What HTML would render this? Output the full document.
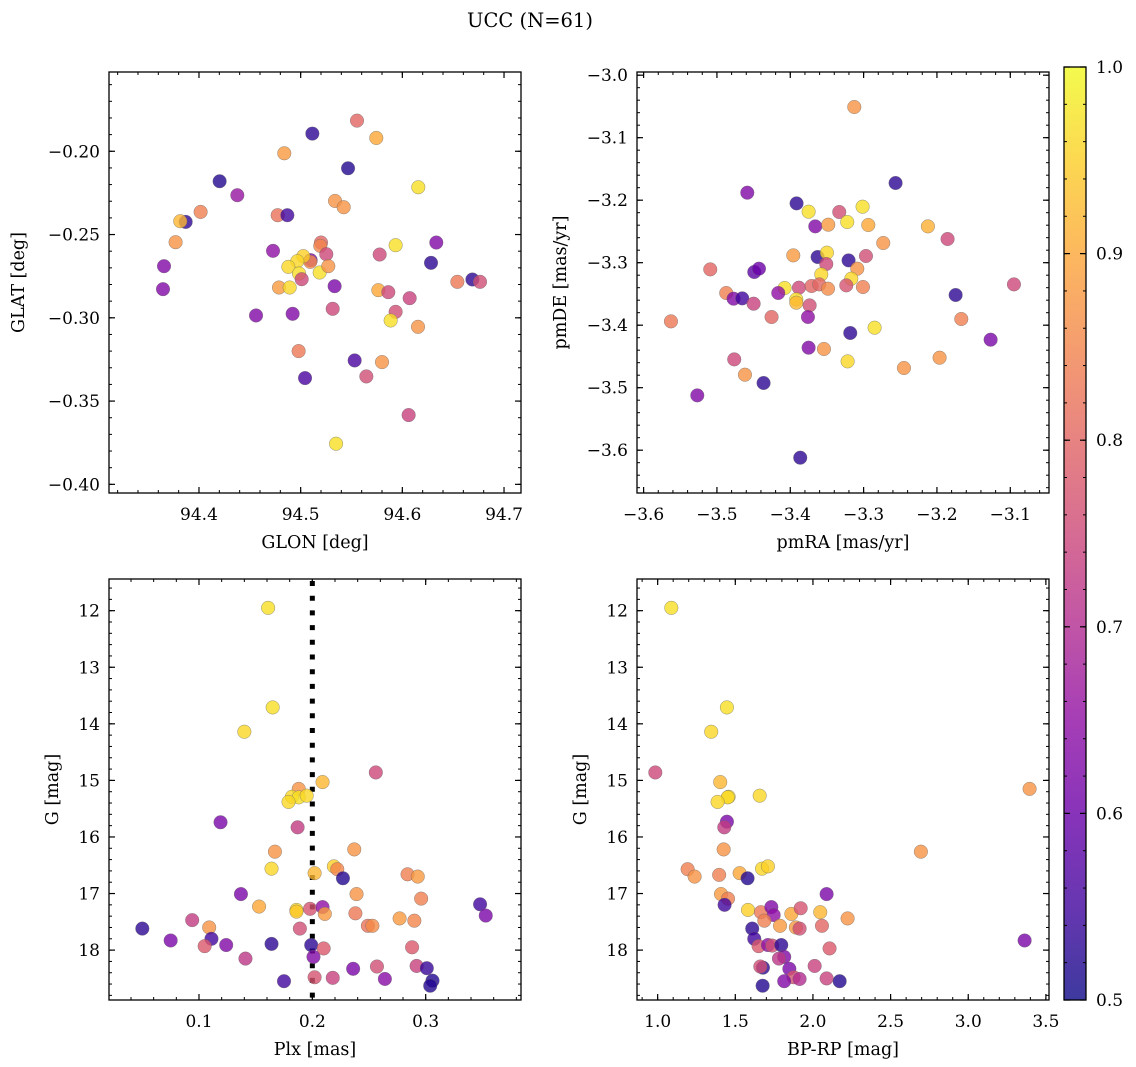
<!DOCTYPE html>
<html><head><meta charset="utf-8">
<style>
html,body{margin:0;padding:0;background:#fff;}
svg{display:block;font-family:"DejaVu Serif","Liberation Serif",serif;}
</style></head>
<body>
<svg id="fig" width="1136" height="1067" viewBox="0 0 1136 1067" xmlns="http://www.w3.org/2000/svg">
<text x="530" y="27" font-size="19.5" text-anchor="middle">UCC (N=61)</text>
</svg>
<script>
// ---- Panel 1: GLON vs GLAT ----
const glonVals=[94.5115,94.5554,94.5744,94.4839,94.5466,94.4203,94.6157,94.4377,94.4016,94.3869,94.3816,94.5338,94.5423,94.4774,94.4869,94.3770,94.4728,94.5200,94.5193,94.5252,94.5777,94.5934,94.6334,94.6282,94.3656,94.3646,94.6541,94.6689,94.6764,94.5098,94.5095,94.5026,94.4967,94.4879,94.4984,94.5010,94.5187,94.5272,94.4787,94.4892,94.5334,94.5764,94.5862,94.6072,94.5315,94.5934,94.5885,94.6154,94.4561,94.4921,94.4980,94.5531,94.5800,94.5646,94.5043,94.6062,94.5348];
const glatVals=[-0.1894,-0.1816,-0.1920,-0.2012,-0.2102,-0.2180,-0.2216,-0.2264,-0.2364,-0.2424,-0.2420,-0.2298,-0.2336,-0.2384,-0.2384,-0.2546,-0.2598,-0.2548,-0.2568,-0.2618,-0.2620,-0.2564,-0.2548,-0.2670,-0.2690,-0.2828,-0.2784,-0.2770,-0.2784,-0.2654,-0.2664,-0.2630,-0.2660,-0.2694,-0.2734,-0.2768,-0.2728,-0.2690,-0.2818,-0.2818,-0.2810,-0.2834,-0.2846,-0.2882,-0.2946,-0.2964,-0.3016,-0.3054,-0.2986,-0.2976,-0.3200,-0.3256,-0.3266,-0.3352,-0.3362,-0.3584,-0.3756];
const probP1=[0.53,0.80,0.90,0.88,0.52,0.52,0.97,0.66,0.84,0.53,0.92,0.87,0.87,0.82,0.55,0.87,0.65,0.80,0.85,0.75,0.75,0.97,0.63,0.53,0.63,0.63,0.83,0.53,0.76,0.62,0.86,0.95,0.96,0.96,0.97,0.75,0.97,0.87,0.88,0.96,0.62,0.90,0.75,0.74,0.75,0.76,0.97,0.87,0.63,0.63,0.83,0.56,0.87,0.76,0.56,0.74,0.97];
// ---- Panel 2: pmRA vs pmDE ----
const pmraVals=[-3.3127,-3.2564,-3.4586,-3.3914,-3.3750,-3.3332,-3.3014,-3.3223,-3.3659,-3.3482,-3.2936,-3.2123,-3.1855,-3.2732,-3.3959,-3.3627,-3.3500,-3.3509,-3.3205,-3.2968,-3.3086,-3.3577,-3.3168,-3.3236,-3.3009,-3.5091,-3.4491,-3.4427,-3.4873,-3.4773,-3.4655,-3.4500,-3.4077,-3.4164,-3.3882,-3.3709,-3.3605,-3.3486,-3.3918,-3.3918,-3.3736,-3.3759,-3.4255,-3.1745,-3.0950,-3.1668,-3.2850,-3.3182,-3.1268,-3.3750,-3.3541,-3.1964,-3.3218,-3.2450,-3.4764,-3.4618,-3.4364,-3.5627,-3.5268,-3.3864];
const pmdeVals=[-3.0509,-3.1725,-3.1880,-3.2051,-3.2184,-3.2189,-3.2104,-3.2349,-3.2419,-3.2392,-3.2397,-3.2419,-3.2621,-3.2685,-3.2883,-3.2909,-3.2840,-3.3021,-3.2963,-3.2893,-3.3096,-3.3187,-3.3256,-3.3363,-3.3389,-3.3107,-3.3149,-3.3096,-3.3485,-3.3576,-3.3571,-3.3656,-3.3405,-3.3485,-3.3400,-3.3373,-3.3347,-3.3416,-3.3587,-3.3640,-3.3683,-3.3869,-3.3869,-3.3517,-3.3347,-3.3901,-3.4040,-3.4125,-3.4232,-3.4360,-3.4381,-3.4520,-3.4579,-3.4685,-3.4547,-3.4792,-3.4925,-3.3939,-3.5123,-3.6120];
const probP2=[0.87,0.53,0.63,0.53,0.97,0.76,0.97,0.97,0.63,0.88,0.90,0.91,0.75,0.87,0.88,0.53,0.96,0.75,0.53,0.76,0.87,0.96,0.96,0.77,0.84,0.80,0.58,0.60,0.84,0.63,0.55,0.74,0.97,0.65,0.75,0.80,0.80,0.86,0.97,0.92,0.76,0.65,0.80,0.53,0.75,0.84,0.97,0.53,0.62,0.63,0.87,0.87,0.96,0.87,0.75,0.87,0.53,0.83,0.63,0.53];
// ---- Panel 3: Plx vs G ----
const plxVals=[0.161,0.165,0.140,0.256,0.209,0.188,0.182,0.188,0.195,0.179,0.119,0.187,0.167,0.237,0.164,0.219,0.222,0.202,0.227,0.284,0.293,0.137,0.239,0.296,0.348,0.353,0.153,0.186,0.186,0.198,0.209,0.211,0.238,0.277,0.290,0.249,0.253,0.094,0.109,0.050,0.189,0.075,0.111,0.105,0.124,0.164,0.199,0.210,0.288,0.141,0.201,0.236,0.257,0.292,0.301,0.175,0.202,0.218,0.264,0.306,0.304];
const gPlxVals=[11.95,13.71,14.14,14.86,15.03,15.15,15.29,15.30,15.27,15.38,15.74,15.83,16.26,16.22,16.56,16.52,16.57,16.64,16.73,16.66,16.70,17.01,17.01,17.09,17.19,17.39,17.23,17.29,17.32,17.27,17.24,17.36,17.35,17.44,17.48,17.57,17.57,17.47,17.60,17.62,17.62,17.83,17.80,17.93,17.91,17.89,17.91,17.97,17.95,18.15,18.12,18.33,18.29,18.28,18.32,18.55,18.48,18.49,18.51,18.54,18.63];
const probP3=[0.97,0.97,0.96,0.75,0.92,0.87,0.96,0.97,0.96,0.96,0.62,0.73,0.87,0.87,0.96,0.95,0.85,0.92,0.52,0.84,0.88,0.62,0.87,0.84,0.55,0.62,0.90,0.96,0.94,0.77,0.65,0.88,0.83,0.88,0.85,0.82,0.86,0.73,0.87,0.53,0.76,0.62,0.55,0.78,0.63,0.53,0.53,0.78,0.78,0.72,0.63,0.62,0.76,0.74,0.54,0.55,0.77,0.74,0.64,0.52,0.52];
// ---- Panel 4: BP-RP vs G ----
const bprpVals=[1.088,1.446,1.345,0.985,3.395,1.403,1.457,1.451,1.386,1.657,1.446,1.429,1.425,2.695,1.193,1.238,1.396,1.528,1.672,1.710,1.579,2.088,1.408,1.453,1.431,1.582,1.665,1.732,1.747,1.687,1.861,1.921,2.047,2.223,1.788,1.890,1.914,2.058,1.609,1.622,1.650,1.710,1.738,1.796,2.107,1.815,1.781,1.678,1.661,1.848,2.011,1.876,1.914,1.815,2.088,2.172,1.676,3.363];
const gColVals=[11.95,13.71,14.14,14.86,15.15,15.03,15.29,15.30,15.38,15.27,15.73,15.83,16.22,16.26,16.57,16.70,16.67,16.64,16.56,16.52,16.73,17.01,17.01,17.09,17.20,17.29,17.33,17.24,17.38,17.48,17.36,17.26,17.33,17.44,17.57,17.60,17.62,17.57,17.62,17.80,17.93,17.91,17.92,17.91,17.97,18.12,18.15,18.31,18.29,18.33,18.28,18.48,18.51,18.55,18.50,18.55,18.63,17.83];
const probP4=[0.97,0.97,0.96,0.75,0.87,0.92,0.97,0.96,0.96,0.96,0.62,0.73,0.87,0.87,0.84,0.87,0.84,0.90,0.96,0.95,0.52,0.62,0.88,0.84,0.55,0.95,0.83,0.63,0.65,0.84,0.90,0.77,0.92,0.87,0.88,0.88,0.76,0.80,0.53,0.55,0.78,0.65,0.76,0.53,0.78,0.63,0.72,0.53,0.76,0.62,0.74,0.77,0.70,0.63,0.74,0.52,0.52,0.62];
// tick label arrays
const glonTicks=[94.4,94.5,94.6,94.7];
const glatTicks=[-0.20,-0.25,-0.30,-0.35,-0.40];
const pmraTicks=[-3.6,-3.5,-3.4,-3.3,-3.2,-3.1];
const pmdeTicks=[-3.0,-3.1,-3.2,-3.3,-3.4,-3.5,-3.6];
const plxTicks=[0.1,0.2,0.3];
const gTicks=[12,13,14,15,16,17,18];
const bprpTicks=[1.0,1.5,2.0,2.5,3.0,3.5];
const cbarTicks=[0.5,0.6,0.7,0.8,0.9,1.0];
const plxRef=[0.2];

const NS="http://www.w3.org/2000/svg";
const fig=document.getElementById('fig');
const TFS=17, LFS=17.5;
const stops=[[0,13,8,135],[0.1,65,4,157],[0.2,106,0,168],[0.3,143,13,164],[0.4,177,42,144],[0.5,204,71,120],[0.6,225,100,98],[0.7,242,132,75],[0.8,252,166,54],[0.9,252,206,37],[1,240,249,33]];
function plasma(v){
  let t=(v-0.5)/0.5; t=Math.max(0,Math.min(1,t));
  for(let i=0;i<stops.length-1;i++){
    const a=stops[i],b=stops[i+1];
    if(t<=b[0]){const f=(t-a[0])/(b[0]-a[0]);
      return `rgb(${Math.round(a[1]+f*(b[1]-a[1]))},${Math.round(a[2]+f*(b[2]-a[2]))},${Math.round(a[3]+f*(b[3]-a[3]))})`;}
  }
  return 'rgb(240,249,33)';
}
function mk(tag,attrs,parent){const e=document.createElementNS(NS,tag);for(const k in attrs)e.setAttribute(k,attrs[k]);(parent||fig).appendChild(e);return e;}
function fmt(v,d){const s=Math.abs(v).toFixed(d);return (v<-1e-9?'\u2212':'')+s;}

function panel(c){
  const g=mk('g',{});
  
  
  const sx=v=>c.px0+(v-c.xd[0])/(c.xd[1]-c.xd[0])*(c.px1-c.px0);
  const sy=v=>c.py0+(v-c.yd[0])/(c.yd[1]-c.yd[0])*(c.py1-c.py0);
  const xlo=Math.min(c.xd[0],c.xd[1]),xhi=Math.max(c.xd[0],c.xd[1]);
  for(let k=Math.ceil(xlo/c.xm-1e-6);k*c.xm<=xhi+1e-9;k++){const X=sx(k*c.xm);
    mk('line',{x1:X,x2:X,y1:c.py1,y2:c.py1-3,stroke:'#000','stroke-width':1},g);
    mk('line',{x1:X,x2:X,y1:c.py0,y2:c.py0+3,stroke:'#000','stroke-width':1},g);}
  const ylo=Math.min(c.yd[0],c.yd[1]),yhi=Math.max(c.yd[0],c.yd[1]);
  for(let k=Math.ceil(ylo/c.ym-1e-6);k*c.ym<=yhi+1e-9;k++){const Y=sy(k*c.ym);
    mk('line',{x1:c.px0,x2:c.px0+3,y1:Y,y2:Y,stroke:'#000','stroke-width':1},g);
    mk('line',{x1:c.px1,x2:c.px1-3,y1:Y,y2:Y,stroke:'#000','stroke-width':1},g);}
  c.xt.forEach(v=>{const X=sx(v);
    mk('line',{x1:X,x2:X,y1:c.py1,y2:c.py1-6,stroke:'#000','stroke-width':1.2},g);
    mk('line',{x1:X,x2:X,y1:c.py0,y2:c.py0+6,stroke:'#000','stroke-width':1.2},g);
    const t=mk('text',{x:X,y:c.py1+27,'font-size':TFS,'text-anchor':'middle'},g);t.textContent=fmt(v,c.xdec);
    
    });
  c.yt.forEach(v=>{const Y=sy(v);
    mk('line',{x1:c.px0,x2:c.px0+6,y1:Y,y2:Y,stroke:'#000','stroke-width':1.2},g);
    mk('line',{x1:c.px1,x2:c.px1-6,y1:Y,y2:Y,stroke:'#000','stroke-width':1.2},g);
    const t=mk('text',{x:c.px0-9,y:Y+6,'font-size':TFS,'text-anchor':'end'},g);t.textContent=fmt(v,c.ydec);
    
    });
  if(c.vline){c.vline.forEach(v=>{const X=sx(v);
    const l=mk('line',{x1:X,x2:X,y1:c.py0+2,y2:c.py1,stroke:'#000','stroke-width':5,'stroke-dasharray':'5 9.7'},g);
    
    });}
  for(let i=0;i<c.xs.length;i++){
    const p=mk('circle',{cx:sx(c.xs[i]),cy:sy(c.ys[i]),r:6.8,fill:plasma(c.cs[i]),'fill-opacity':0.8,stroke:'#666','stroke-opacity':0.7,'stroke-width':0.5},g);
    
    
  }
  const fr=mk('rect',{x:c.px0,y:c.py0,width:c.px1-c.px0,height:c.py1-c.py0,fill:'none',stroke:'#000','stroke-width':1.3},g);
  
  
  const xl=mk('text',{x:(c.px0+c.px1)/2,y:c.py1+55,'font-size':LFS,'text-anchor':'middle'},g);xl.textContent=c.xlab;
  
  
  const yx=c.ylx, yy=(c.py0+c.py1)/2;
  const yl=mk('text',{x:yx,y:yy,'font-size':LFS,'text-anchor':'middle',transform:`rotate(-90 ${yx} ${yy})`},g);yl.textContent=c.ylab;
  
  
}

panel({name:'glon-glat-panel',px0:109,px1:521,py0:72,py1:493,xd:[94.3115,94.7167],yd:[-0.1524,-0.4052],xt:glonTicks,yt:glatTicks,xm:0.02,ym:0.01,xdec:1,ydec:2,xs:glonVals,ys:glatVals,cs:probP1,xlab:'GLON [deg]',ylab:'GLAT [deg]',ylx:24});
panel({name:'pm-panel',px0:637,px1:1049,py0:72,py1:493,xd:[-3.609,-3.0472],yd:[-2.9949,-3.6685],xt:pmraTicks,yt:pmdeTicks,xm:0.02,ym:0.02,xdec:1,ydec:1,xs:pmraVals,ys:pmdeVals,cs:probP2,xlab:'pmRA [mas/yr]',ylab:'pmDE [mas/yr]',ylx:566});
panel({name:'plx-g-panel',px0:109,px1:521,py0:579,py1:1000,xd:[0.0206,0.3841],yd:[11.44,18.882],xt:plxTicks,yt:gTicks,xm:0.02,ym:0.2,xdec:1,ydec:0,xs:plxVals,ys:gPlxVals,cs:probP3,xlab:'Plx [mas]',ylab:'G [mag]',ylx:58,vline:plxRef});
panel({name:'cmd-panel',px0:637,px1:1049,py0:579,py1:1000,xd:[0.867,3.52],yd:[11.44,18.882],xt:bprpTicks,yt:gTicks,xm:0.1,ym:0.2,xdec:1,ydec:0,xs:bprpVals,ys:gColVals,cs:probP4,xlab:'BP-RP [mag]',ylab:'G [mag]',ylx:586});

// colorbar
(function(){
  const cx0=1064,cx1=1086,cy0=67,cy1=1000;
  const g=mk('g',{});
  
  
  const defs=mk('defs',{},g);
  const lg=mk('linearGradient',{id:'cb',x1:0,y1:1,x2:0,y2:0},defs);
  for(let i=0;i<=20;i++){const v=0.5+i*0.025;mk('stop',{offset:(i/20),'stop-color':plasma(v),'stop-opacity':0.8},lg);}
  mk('rect',{x:cx0,y:cy0,width:cx1-cx0,height:cy1-cy0,fill:'url(#cb)'},g);
  const sy=v=>cy1-(v-0.5)/0.5*(cy1-cy0);
  for(let k=25;k<=50;k++){const Y=sy(k*0.02);
    mk('line',{x1:cx1,x2:cx1-3,y1:Y,y2:Y,stroke:'#000','stroke-width':1},g);
    mk('line',{x1:cx0,x2:cx0+3,y1:Y,y2:Y,stroke:'#000','stroke-width':1},g);}
  cbarTicks.forEach(v=>{const Y=sy(v);
    mk('line',{x1:cx1,x2:cx1-6,y1:Y,y2:Y,stroke:'#000','stroke-width':1.2},g);
    mk('line',{x1:cx0,x2:cx0+6,y1:Y,y2:Y,stroke:'#000','stroke-width':1.2},g);
    const t=mk('text',{x:cx1+10,y:Y+6,'font-size':TFS},g);t.textContent=v.toFixed(1);
    
    });
  mk('rect',{x:cx0,y:cy0,width:cx1-cx0,height:cy1-cy0,fill:'none',stroke:'#000','stroke-width':1.3},g);
})();
</script>
</body></html>
